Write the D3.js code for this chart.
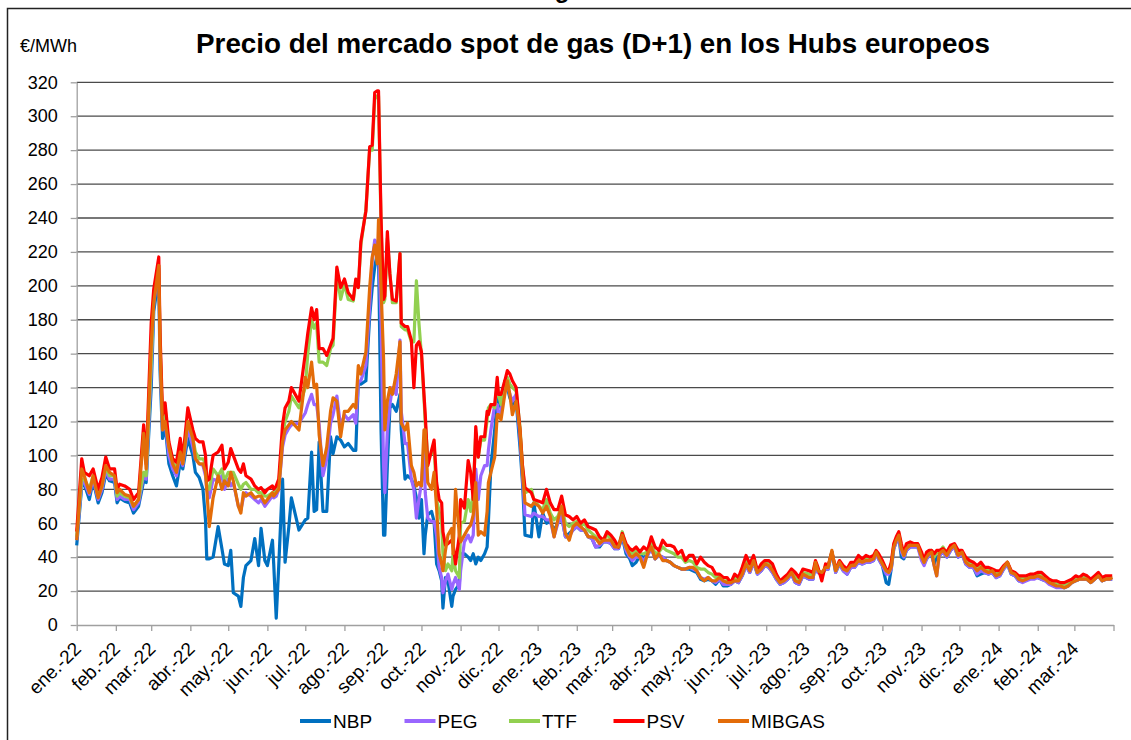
<!DOCTYPE html>
<html>
<head>
<meta charset="utf-8">
<script src="https://cdn.jsdelivr.net/npm/d3@7"></script>
<style>
  body { margin: 0; background: #fff; }
  svg { display: block; font-family: "Liberation Sans", Arial, sans-serif; }
</style>
</head>
<body>
<svg id="chart" width="1131" height="740"></svg>
<script>
// daily spot price samples (€/MWh)
var dates = [
  "2022-01-01","2022-01-05","2022-01-07","2022-01-11","2022-01-14","2022-01-18","2022-01-21","2022-01-24","2022-01-27","2022-01-31",
  "2022-02-02","2022-02-04","2022-02-08","2022-02-12","2022-02-15","2022-02-19","2022-02-23","2022-02-25",
  "2022-03-01","2022-03-03","2022-03-07","2022-03-08","2022-03-10","2022-03-12","2022-03-15","2022-03-18","2022-03-21","2022-03-24","2022-03-26","2022-03-30",
  "2022-04-03","2022-04-05","2022-04-08","2022-04-11","2022-04-13","2022-04-14","2022-04-16","2022-04-19","2022-04-23","2022-04-26","2022-04-28",
  "2022-05-01","2022-05-03","2022-05-05","2022-05-09","2022-05-11","2022-05-13","2022-05-15","2022-05-19","2022-05-22","2022-05-25","2022-05-27","2022-05-30",
  "2022-06-01","2022-06-05","2022-06-06","2022-06-08","2022-06-10","2022-06-13","2022-06-15","2022-06-18","2022-06-20","2022-06-26",
  "2022-07-01","2022-07-03","2022-07-06","2022-07-08","2022-07-10","2022-07-12","2022-07-15","2022-07-18","2022-07-21","2022-07-23","2022-07-26","2022-07-29",
  "2022-08-01","2022-08-04","2022-08-08","2022-08-10","2022-08-12","2022-08-14","2022-08-18","2022-08-21","2022-08-23","2022-08-25","2022-08-27","2022-08-28","2022-08-30",
  "2022-09-01","2022-09-02","2022-09-04","2022-09-06","2022-09-08","2022-09-11","2022-09-14","2022-09-15","2022-09-18","2022-09-20","2022-09-23","2022-09-25","2022-09-27","2022-09-29",
  "2022-10-01","2022-10-03","2022-10-04","2022-10-06","2022-10-09","2022-10-11","2022-10-13","2022-10-15","2022-10-17","2022-10-18","2022-10-20","2022-10-22","2022-10-25","2022-10-26","2022-10-28","2022-10-31",
  "2022-11-01","2022-11-04","2022-11-07","2022-11-09","2022-11-11","2022-11-13","2022-11-15","2022-11-17","2022-11-20","2022-11-22","2022-11-23","2022-11-25","2022-11-28","2022-11-30",
  "2022-12-01","2022-12-03","2022-12-06","2022-12-08","2022-12-10","2022-12-12","2022-12-15","2022-12-18","2022-12-20","2022-12-22","2022-12-27","2022-12-29",
  "2023-01-02","2023-01-05","2023-01-08","2023-01-11","2023-01-14","2023-01-17","2023-01-20","2023-01-23","2023-01-26","2023-01-29",
  "2023-02-01","2023-02-04","2023-02-07","2023-02-10","2023-02-13","2023-02-16","2023-02-19","2023-02-22","2023-02-25","2023-02-28",
  "2023-03-03","2023-03-06","2023-03-09","2023-03-12","2023-03-15","2023-03-17","2023-03-20","2023-03-23","2023-03-26","2023-03-29",
  "2023-04-01","2023-04-04","2023-04-07","2023-04-10","2023-04-13","2023-04-16","2023-04-19","2023-04-22","2023-04-25","2023-04-28",
  "2023-05-01","2023-05-04","2023-05-07","2023-05-10","2023-05-13","2023-05-16","2023-05-19","2023-05-22","2023-05-25","2023-05-28","2023-05-31",
  "2023-06-03","2023-06-06","2023-06-09","2023-06-12","2023-06-15","2023-06-18","2023-06-21","2023-06-24","2023-06-27","2023-06-30",
  "2023-07-03","2023-07-06","2023-07-09","2023-07-12","2023-07-15","2023-07-18","2023-07-21","2023-07-24","2023-07-27","2023-07-30",
  "2023-08-04","2023-08-07","2023-08-09","2023-08-11","2023-08-14","2023-08-17","2023-08-19","2023-08-22","2023-08-25","2023-08-28","2023-08-31",
  "2023-09-03","2023-09-06","2023-09-09","2023-09-12","2023-09-15","2023-09-18","2023-09-21","2023-09-24","2023-09-26","2023-09-28",
  "2023-10-01","2023-10-04","2023-10-06","2023-10-08","2023-10-10","2023-10-12","2023-10-14","2023-10-16","2023-10-18","2023-10-20","2023-10-23","2023-10-26","2023-10-29",
  "2023-11-01","2023-11-03","2023-11-05","2023-11-07","2023-11-09","2023-11-11","2023-11-13","2023-11-15","2023-11-18","2023-11-21","2023-11-24","2023-11-27","2023-11-30",
  "2023-12-03","2023-12-06","2023-12-09","2023-12-12","2023-12-15","2023-12-18","2023-12-21","2023-12-24","2023-12-27","2023-12-30",
  "2024-01-02","2024-01-05","2024-01-08","2024-01-11","2024-01-14","2024-01-17","2024-01-20","2024-01-23","2024-01-26","2024-01-29",
  "2024-02-01","2024-02-04","2024-02-07","2024-02-10","2024-02-13","2024-02-16","2024-02-19","2024-02-22","2024-02-25","2024-02-28",
  "2024-03-02","2024-03-05","2024-03-08","2024-03-11","2024-03-14","2024-03-17","2024-03-20","2024-03-23","2024-03-26","2024-03-29","2024-03-31"
];

var nbp = [
  47,82,83,74,85,72,78,89,85,84,
  72,75,73,72,66,70,85,84,
  140,185,205,150,110,118,95,88,82,96,92,110,
  100,90,87,80,62,39,39,40,58,45,36,
  35,44,19,17,11,28,35,38,51,35,57,38,
  35,50,36,4,35,86,37,58,75,56,
  62,63,102,67,68,108,67,67,111,101,111,109,
  105,107,103,103,144,142,144,182,199,211,219,219,115,
  53,53,94,128,130,126,136,115,86,88,86,82,75,63,
  74,42,53,65,67,61,36,32,26,10,28,26,11,17,21,24,
  42,42,40,38,42,36,40,38,42,46,61,94,115,132,
  136,128,138,140,134,130,132,105,84,53,52,72,
  52,66,60,61,56,60,64,52,54,56,
  58,56,56,52,51,46,46,49,49,48,
  45,45,52,42,39,35,37,41,40,41,
  46,39,41,40,38,37,35,34,33,33,
  33,32,31,27,26,27,26,24,27,23,23,
  24,26,25,29,35,31,37,30,32,35,
  34,31,27,24,25,27,30,25,24,29,
  27,27,36,31,30,33,33,43,31,36,32,
  30,34,34,37,36,37,37,38,42,39,
  35,25,24,33,45,49,52,40,39,44,46,46,46,
  40,36,39,41,41,36,40,41,43,40,44,46,40,
  42,36,34,34,29,30,31,30,31,28,
  29,33,36,30,29,26,26,27,28,28,
  28,27,26,25,24,23,23,22,23,25,
  26,27,27,27,25,27,29,26,27,27,27
];

var peg = [
  50,84,84,77,86,74,80,91,86,86,
  74,76,74,74,68,72,88,86,
  150,190,210,160,115,120,100,92,88,100,94,116,
  105,98,95,94,88,80,75,86,85,88,80,
  86,82,84,70,68,75,78,76,74,72,74,70,
  72,76,75,76,80,105,112,116,118,119,
  125,130,136,130,130,118,88,98,119,124,135,117,
  124,121,124,119,143,144,153,188,215,227,224,226,178,
  94,78,115,130,140,136,168,126,107,107,86,80,63,74,
  84,105,78,63,61,61,53,34,28,19,26,30,21,24,28,21,
  32,49,53,49,53,92,74,88,94,94,103,115,130,130,
  124,126,140,142,136,132,136,111,88,65,64,66,
  64,64,62,62,52,60,64,52,52,56,
  58,56,56,52,51,46,47,49,49,48,
  45,45,53,44,40,38,40,40,38,41,
  45,39,41,40,38,37,35,34,33,33,
  34,33,32,28,27,28,26,25,27,24,24,
  24,26,25,29,35,31,37,30,32,35,
  34,31,27,24,25,27,30,25,24,29,
  27,27,36,31,30,33,33,43,31,36,32,
  30,34,34,37,36,37,37,38,42,39,
  35,30,30,33,45,49,52,43,40,44,46,46,46,
  38,35,39,41,42,35,29,41,43,40,44,46,40,
  42,36,34,34,30,32,31,30,31,28,
  29,33,36,30,29,26,25,26,27,27,
  28,27,26,24,23,22,22,22,23,25,
  26,27,27,27,25,27,29,26,27,27,27
];

var ttf = [
  52,86,86,80,88,76,82,93,88,88,
  76,78,76,75,70,74,90,88,
  155,192,212,165,120,128,105,96,92,105,96,120,
  110,102,98,98,95,82,80,92,88,92,85,
  90,90,90,83,80,83,84,80,80,78,78,76,
  76,78,78,80,82,112,120,126,135,128,
  140,160,180,175,178,155,155,153,163,165,207,192,
  201,192,191,203,199,224,245,280,280,310,312,312,236,
  190,192,228,207,190,190,219,176,174,174,167,167,203,178,
  159,134,119,99,101,107,74,67,60,42,32,36,32,42,32,28,
  60,61,74,67,78,113,99,109,109,121,128,130,128,142,
  136,130,144,146,142,140,138,117,94,78,80,74,
  70,68,74,66,62,64,70,60,58,60,
  61,58,60,56,54,52,50,50,53,51,
  48,46,55,46,43,42,44,42,42,43,
  48,42,43,46,44,43,42,40,40,37,
  38,37,34,33,33,31,30,28,29,26,26,
  25,28,27,32,39,34,40,31,34,37,
  36,34,29,25,27,29,32,28,26,31,
  30,29,37,33,28,35,34,43,32,37,34,
  32,36,36,39,38,39,39,40,43,41,
  37,32,31,35,47,51,54,46,41,47,48,47,47,
  42,37,42,43,44,40,43,43,46,42,46,47,43,
  43,39,37,36,33,35,33,32,32,30,
  31,34,37,31,30,28,28,28,29,29,
  30,29,28,26,25,25,24,24,25,26,
  28,28,29,28,26,28,30,27,28,28,28
];

var psv = [
  55,98,90,88,92,80,87,99,92,92,
  80,83,82,80,74,78,118,95,
  178,198,217,172,124,131,108,98,96,110,98,128,
  115,110,108,108,100,85,86,100,102,106,92,
  96,104,100,92,90,95,88,86,82,80,81,78,
  80,82,80,82,86,118,128,132,140,132,
  160,172,187,180,186,163,163,159,165,169,211,199,
  204,196,192,204,199,226,244,282,283,314,315,315,240,
  192,194,232,207,192,191,219,178,176,176,168,140,165,167,
  161,136,124,94,103,109,84,74,72,55,47,48,50,48,36,53,
  74,69,97,90,74,117,99,111,111,126,124,130,130,146,
  136,136,144,150,148,144,140,115,94,81,78,74,
  73,72,80,72,68,68,76,65,64,62,
  64,60,62,58,57,56,52,50,55,53,
  50,46,54,48,45,44,46,43,46,44,
  52,46,44,50,47,47,46,42,44,38,
  41,41,36,40,37,35,34,30,30,28,28,
  25,30,28,34,41,36,41,32,36,38,
  38,36,30,26,28,30,33,31,28,33,
  32,31,38,34,26,36,35,43,33,38,35,
  33,37,37,41,39,41,40,41,44,42,
  38,33,32,37,48,52,55,48,42,48,49,48,48,
  43,38,43,44,44,42,44,44,45,43,47,48,44,
  44,40,38,37,35,37,34,34,33,32,
  32,35,37,32,31,29,29,29,30,30,
  31,31,29,27,26,26,25,25,26,27,
  29,28,30,29,27,29,31,28,29,29,29
];

var mibgas = [
  50,92,88,78,88,75,82,94,90,88,
  78,80,77,76,70,74,113,92,
  165,190,212,165,115,120,105,95,90,102,95,120,
  110,98,95,95,90,80,58,75,88,80,85,
  82,90,85,70,66,78,76,78,75,76,76,72,
  74,78,76,78,80,108,115,118,120,115,
  146,140,155,140,142,112,94,105,126,134,132,111,
  126,126,130,128,153,148,161,199,217,224,213,239,199,
  157,115,132,140,136,148,167,119,115,119,94,90,82,84,
  82,115,115,84,80,90,69,42,36,32,44,53,57,42,80,53,
  49,53,57,59,65,84,53,55,53,67,84,90,99,124,
  124,121,136,144,136,124,132,115,90,72,70,72,
  70,66,70,64,52,62,70,54,50,58,
  60,58,56,52,52,51,48,50,50,50,
  46,46,53,46,41,40,42,40,34,42,
  46,39,42,38,38,37,35,34,33,33,
  34,34,32,28,26,28,26,26,28,26,25,
  25,26,26,30,36,32,38,31,33,36,
  35,32,28,25,26,28,31,26,25,30,
  28,28,37,32,31,34,34,44,32,37,33,
  32,35,35,38,37,38,38,39,43,40,
  36,32,31,34,46,50,53,45,41,45,47,47,47,
  40,37,40,42,43,35,29,42,44,41,45,47,41,
  43,37,35,35,32,34,32,31,32,29,
  30,34,37,31,30,27,26,27,28,28,
  29,28,27,25,24,23,23,22,23,25,
  26,27,27,27,25,27,29,26,27,27,28
];

var seriesNames = ["NBP", "PEG", "TTF", "PSV", "MIBGAS"];
var seriesValues = [nbp, peg, ttf, psv, mibgas];
var seriesColors = ["#0070C0", "#9966FF", "#92D050", "#FF0000", "#E36C09"];

var monthLabels = ["ene.", "feb.", "mar.", "abr.", "may.", "jun.", "jul.", "ago.", "sep.", "oct.", "nov.", "dic."];
var yTicks = [0, 20, 40, 60, 80, 100, 120, 140, 160, 180, 200, 220, 240, 260, 280, 300, 320];

var titleText = "Precio del mercado spot de gas (D+1) en los Hubs europeos";
var unitText = "€/MWh";

(function(){
  var svg = d3.select("#chart");
  var parse = d3.timeParse("%Y-%m-%d");

  // plot box, in pixels
  var plotLeft = 76.7, plotRight = 1113.5, plotTop = 82.3, plotBottom = 625;

  var x = d3.scaleTime()
    .domain([new Date(2022, 0, 1), new Date(2024, 3, 1)])
    .range([plotLeft, plotRight]);
  var y = d3.scaleLinear()
    .domain([0, 320])
    .range([plotBottom, plotTop]);

  svg.append("rect").attr("width", 1131).attr("height", 740).attr("fill", "#fff");

  // outer frame of the chart object, cut by the screenshot on the right/bottom
  svg.append("rect")
    .attr("x", 7.5).attr("y", 8.5)
    .attr("width", 1200).attr("height", 800)
    .attr("fill", "none").attr("stroke", "#222").attr("stroke-width", 1.5);

  // descender of a heading sitting above the screenshot
  svg.append("text")
    .attr("x", 562).attr("y", -2)
    .attr("text-anchor", "middle")
    .attr("font-size", 24).attr("font-weight", "bold")
    .text("g");

  // title, scaled to the width it has in the original
  var title = svg.append("text")
    .attr("x", 593).attr("y", 53)
    .attr("text-anchor", "middle")
    .attr("font-size", 24).attr("font-weight", "bold")
    .attr("fill", "#000")
    .text(titleText);
  var tw = title.node().getComputedTextLength();
  if (tw > 0) title.attr("font-size", 24 * 794 / tw);

  svg.append("text")
    .attr("x", 20).attr("y", 52)
    .attr("font-size", 18)
    .text(unitText);

  // gridlines
  svg.append("g")
    .selectAll("line")
    .data(yTicks.filter(function(d){ return d > 0; }))
    .enter().append("line")
    .attr("x1", plotLeft).attr("x2", plotRight)
    .attr("y1", function(d){ return y(d); })
    .attr("y2", function(d){ return y(d); })
    .attr("stroke", "#4a4a4a").attr("stroke-width", 1.3);

  // y axis
  var yAxis = svg.append("g")
    .attr("transform", "translate(" + plotLeft + ",0)")
    .call(d3.axisLeft(y).tickValues(yTicks).tickSize(6).tickSizeOuter(0).tickPadding(13));
  yAxis.select(".domain").attr("stroke", "#a0a0a0").attr("stroke-width", 1.3);
  yAxis.selectAll(".tick line").attr("stroke", "#a0a0a0").attr("stroke-width", 1.3);
  yAxis.selectAll("text")
    .attr("font-size", 18)
    .attr("font-family", "'Liberation Sans', Arial, sans-serif")
    .attr("fill", "#000");

  // x axis, one tick per month
  var monthTicks = d3.timeMonth.range(new Date(2022, 0, 1), new Date(2024, 3, 2));
  var xAxis = svg.append("g")
    .attr("transform", "translate(0," + plotBottom + ")")
    .call(d3.axisBottom(x)
      .tickValues(monthTicks)
      .tickSize(6).tickSizeOuter(0)
      .tickFormat(function(d){
        if (d >= new Date(2024, 3, 1)) return "";
        return monthLabels[d.getMonth()] + "-" + String(d.getFullYear()).slice(2);
      }));
  xAxis.select(".domain").attr("stroke", "#a0a0a0").attr("stroke-width", 1.3);
  xAxis.selectAll(".tick line").attr("stroke", "#a0a0a0").attr("stroke-width", 1.3);
  xAxis.selectAll("text")
    .attr("x", 0).attr("y", 0).attr("dy", 0)
    .attr("font-size", 19)
    .attr("font-family", "'Liberation Sans', Arial, sans-serif")
    .attr("fill", "#000")
    .style("text-anchor", "end")
    .attr("transform", "translate(5,25) rotate(-45)");

  // series
  var line = d3.line()
    .defined(function(d){ return d.v != null; })
    .x(function(d){ return x(d.date); })
    .y(function(d){ return y(d.v); });

  var parsedDates = dates.map(parse);

  seriesNames.forEach(function(name, i){
    var pts = parsedDates.map(function(d, j){ return { date: d, v: seriesValues[i][j] }; });
    svg.append("path")
      .datum(pts)
      .attr("fill", "none")
      .attr("stroke", seriesColors[i])
      .attr("stroke-width", 3.2)
      .attr("stroke-linejoin", "round")
      .attr("d", line);
  });

  // legend
  var legend = svg.append("g").attr("transform", "translate(300,721)");
  var item = legend.selectAll("g")
    .data(seriesNames)
    .enter().append("g")
    .attr("transform", function(d, i){ return "translate(" + (i * 104.5) + ",0)"; });
  item.append("line")
    .attr("x1", 0).attr("x2", 31)
    .attr("stroke", function(d, i){ return seriesColors[i]; })
    .attr("stroke-width", 4);
  item.append("text")
    .attr("x", 33).attr("dy", "0.35em")
    .attr("font-size", 19)
    .text(function(d){ return d; });
})();
</script>
</body>
</html>
